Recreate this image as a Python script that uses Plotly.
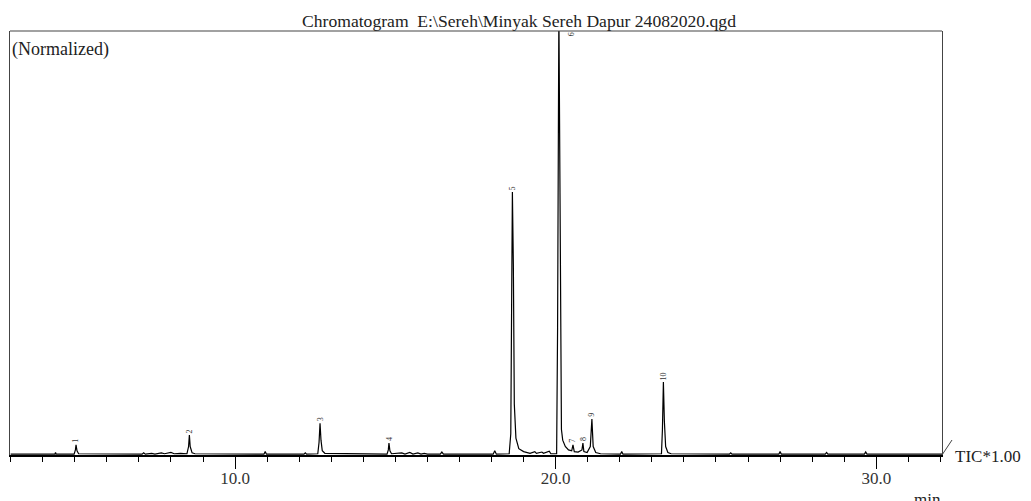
import plotly.graph_objects as go

# Chromatogram trace (retention time in min, normalized intensity)
times = [3.00, 4.38, 4.40, 4.42,
         4.98, 5.02, 5.04, 5.07, 5.12,
         7.10, 7.15, 7.20, 7.40, 7.50, 7.70, 7.80, 8.00, 8.10, 8.30,
         8.50, 8.55, 8.575, 8.60, 8.66, 8.75,
         10.90, 10.94, 10.98,
         12.15, 12.19, 12.23,
         12.58, 12.62, 12.65, 12.68, 12.72, 12.80,
         14.74, 14.78, 14.80, 14.83, 14.88,
         15.20, 15.30, 15.45, 15.55, 15.70, 15.80, 15.90, 16.00,
         16.40, 16.45, 16.50,
         18.05, 18.10, 18.15,
         18.55, 18.60, 18.63, 18.65, 18.68, 18.71, 18.76, 18.85, 19.00, 19.20,
         19.35, 19.40, 19.57, 19.62, 19.80, 19.85,
         20.03, 20.06, 20.10, 20.14, 20.18, 20.22, 20.30, 20.40, 20.50, 20.54, 20.58,
         20.70, 20.82, 20.85, 20.88, 20.98, 21.08, 21.13, 21.17, 21.25, 21.40,
         22.02, 22.06, 22.10,
         23.30, 23.33, 23.36, 23.39, 23.43, 23.50, 23.60,
         25.42, 25.46, 25.50,
         26.96, 27.00, 27.04,
         28.41, 28.45, 28.49,
         29.63, 29.67, 29.71,
         32.05]
intensity = [0.002, 0.002, 0.006, 0.002,
             0.002, 0.012, 0.024, 0.010, 0.003,
             0.002, 0.005, 0.002, 0.004, 0.002, 0.005, 0.003, 0.006, 0.003, 0.004,
             0.003, 0.020, 0.047, 0.020, 0.005, 0.003,
             0.002, 0.008, 0.002,
             0.002, 0.005, 0.002,
             0.003, 0.030, 0.075, 0.035, 0.010, 0.004,
             0.002, 0.012, 0.028, 0.010, 0.003,
             0.005, 0.002, 0.006, 0.002, 0.005, 0.002, 0.004, 0.002,
             0.002, 0.007, 0.002,
             0.002, 0.010, 0.002,
             0.003, 0.050, 0.400, 0.620, 0.450, 0.120, 0.040, 0.015, 0.008, 0.004,
             0.008, 0.004, 0.007, 0.004, 0.009, 0.003,
             0.003, 0.300, 1.050, 0.500, 0.060, 0.035, 0.020, 0.012, 0.010, 0.024, 0.008,
             0.007, 0.012, 0.028, 0.008, 0.006, 0.020, 0.085, 0.020, 0.006, 0.003,
             0.002, 0.008, 0.002,
             0.003, 0.060, 0.172, 0.080, 0.020, 0.006, 0.003,
             0.002, 0.005, 0.002,
             0.002, 0.008, 0.002,
             0.002, 0.006, 0.002,
             0.002, 0.007, 0.002,
             0.002]

# Numbered peaks
peak_labels = ["1", "2", "3", "4", "5", "7", "8", "9", "10"]
peak_times = [5.04, 8.575, 12.65, 14.80, 18.65, 20.54, 20.85, 21.13, 23.36]
peak_heights = [0.024, 0.047, 0.075, 0.028, 0.620, 0.024, 0.028, 0.085, 0.172]
top_peak_label = "6"
top_peak_pos = (20.52, 0.993)

tick_values = [10, 20, 30]
tick_texts = ["10.0", "20.0", "30.0"]

title_text = r"Chromatogram  E:\Sereh\Minyak Sereh Dapur 24082020.qgd"
SERIF = "Liberation Serif"

# page body has an 8px margin; the figure is sized to fit the 1031x501 window
FIG_W, FIG_H = 1023, 493

fig = go.Figure()
fig.add_trace(go.Scatter(x=times, y=intensity, mode="lines",
                         line=dict(color="black", width=1.2), hoverinfo="skip",
                         showlegend=False))

annotations = []
for lab, t, h in zip(peak_labels, peak_times, peak_heights):
    annotations.append(dict(x=t, y=h, xref="x", yref="y", text=lab, showarrow=False,
                            textangle=-90, xanchor="center", yanchor="bottom", yshift=0,
                            font=dict(family=SERIF, size=8, color="#333")))
annotations.append(dict(x=top_peak_pos[0], y=top_peak_pos[1], xref="x", yref="paper",
                        text=top_peak_label, showarrow=False, textangle=-90,
                        xanchor="center", yanchor="middle",
                        font=dict(family=SERIF, size=8, color="#333")))
annotations.append(dict(x=0.0, y=0.985, xref="paper", yref="paper", text="(Normalized)",
                        showarrow=False, xanchor="left", yanchor="top",
                        font=dict(family=SERIF, size=18, color="#222")))
annotations.append(dict(x=1 + 11 / 932, y=-0.003, xref="paper", yref="paper", text="TIC*1.00",
                        showarrow=False, xanchor="left", yanchor="middle",
                        font=dict(family=SERIF, size=17, color="#222")))
annotations.append(dict(x=0.984, y=-0.105, xref="paper", yref="paper", text="min",
                        showarrow=False, xanchor="center", yanchor="middle",
                        font=dict(family=SERIF, size=17, color="#222")))

shapes = [
    dict(type="line", xref="paper", yref="paper", x0=0, x1=1, y0=1, y1=1,
         line=dict(color="#444", width=1.2)),
    dict(type="line", xref="paper", yref="paper", x0=1, x1=1 + 10 / 932, y0=0, y1=15 / 424,
         line=dict(color="#444", width=1)),
]

fig.update_layout(
    width=FIG_W, height=FIG_H,
    margin=dict(l=2, r=89, t=23, b=46),
    paper_bgcolor="white", plot_bgcolor="white",
    title=dict(text=title_text, x=511 / FIG_W, xref="container", xanchor="center",
               y=1 - 13 / FIG_H, yref="container", yanchor="middle",
               font=dict(family=SERIF, size=17.6, color="#222")),
    annotations=annotations,
    shapes=shapes,
    xaxis=dict(range=[2.98, 32.05], showgrid=False, zeroline=False,
               showline=True, linecolor="black", linewidth=2,
               ticks="outside", ticklen=12, tickwidth=1, tickcolor="black",
               tickvals=tick_values, ticktext=tick_texts, ticklabelstandoff=-5,
               tickfont=dict(family=SERIF, size=17, color="#333"),
               minor=dict(dtick=1, tick0=0, ticks="outside", ticklen=5,
                          tickwidth=1, tickcolor="black", showgrid=False)),
    yaxis=dict(range=[0, 1.0], showgrid=False, zeroline=False, showticklabels=False,
               ticks="", showline=True, linecolor="#444", linewidth=1.2, mirror=True),
)

fig.write_html("out.html")
